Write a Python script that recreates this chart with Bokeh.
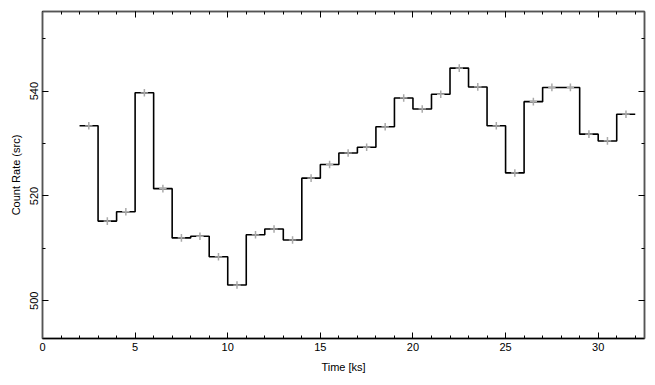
import math
from bokeh.plotting import figure
from bokeh.models import LinearAxis, Range1d, SingleIntervalTicker, ColumnDataSource, CustomJSTickFormatter
from bokeh.embed import file_html
from bokeh.resources import INLINE

# Data: 1 ks bins from 2 to 32 ks
bin_lo = [2, 3, 4, 5, 6, 7, 8, 9, 10, 11, 12, 13, 14, 15, 16, 17, 18, 19, 20, 21,
          22, 23, 24, 25, 26, 27, 28, 29, 30, 31]
rate = [533.4, 515.2, 517.0, 539.7, 521.4, 512.0, 512.3, 508.4, 503.0, 512.6,
        513.7, 511.6, 523.4, 526.0, 528.2, 529.3, 533.2, 538.7, 536.6, 539.4,
        544.4, 540.8, 533.4, 524.4, 538.0, 540.7, 540.7, 531.8, 530.5, 535.6]
rate_err = [0.73, 0.72, 0.72, 0.73, 0.72, 0.72, 0.72, 0.71, 0.71, 0.72,
            0.72, 0.72, 0.72, 0.73, 0.73, 0.73, 0.73, 0.73, 0.73, 0.73,
            0.74, 0.74, 0.73, 0.72, 0.73, 0.74, 0.74, 0.73, 0.73, 0.73]
bin_width = 1.0

FONT = "Liberation Sans"
AX = "#555555"

p = figure(frame_width=602, frame_height=327, output_backend="svg", toolbar_location=None,
           x_range=Range1d(0, 32.5), y_range=Range1d(492.8, 555.2),
           min_border_left=42, min_border_right=8, min_border_top=11,
           min_border_bottom=44, x_axis_location="below")
p.grid.visible = False
p.outline_line_color = AX
p.outline_line_width = 1.5
p.background_fill_color = "white"
p.border_fill_color = "white"

# step line
xs = bin_lo + [bin_lo[-1] + bin_width]
ys = rate + [rate[-1]]
p.step(xs, ys, mode="after", line_color="black", line_width=1.6)

# error bars
xc = [b + bin_width / 2 for b in bin_lo]
src = ColumnDataSource(dict(
    x=xc, y0=[r - e for r, e in zip(rate, rate_err)],
    y1=[r + e for r, e in zip(rate, rate_err)],
    xl=[x - 0.2 for x in xc], xr=[x + 0.2 for x in xc], y=rate))
p.segment(x0="xl", y0="y", x1="xr", y1="y", source=src, line_color="#b0b0b0", line_width=1.2)
p.segment(x0="x", y0="y0", x1="x", y1="y1", source=src, line_color="#aaaaaa", line_width=1.5)

def style(ax):
    ax.axis_line_color = AX
    ax.axis_line_width = 1.5
    ax.major_tick_line_color = "black"
    ax.minor_tick_line_color = "black"
    ax.major_tick_in = 6
    ax.major_tick_out = 0
    ax.minor_tick_in = 3
    ax.minor_tick_out = 0
    ax.major_label_text_font = FONT
    ax.major_label_text_font_size = "11px"
    ax.major_label_text_color = "black"
    ax.axis_label_text_font = FONT
    ax.axis_label_text_font_size = "11px"
    ax.axis_label_text_font_style = "normal"
    ax.axis_label_text_color = "black"

p.xaxis.ticker = SingleIntervalTicker(interval=5, num_minor_ticks=5)
p.yaxis.ticker = SingleIntervalTicker(interval=20, num_minor_ticks=2)
p.xaxis.axis_label = "Time [ks]"
p.yaxis.axis_label = "Count Rate (src)"
style(p.xaxis[0])
style(p.yaxis[0])
p.xaxis[0].axis_line_color = "black"
p.xaxis.major_label_standoff = 4
p.xaxis.axis_label_standoff = 7
p.yaxis.major_label_orientation = "vertical"
p.yaxis.major_label_standoff = 4
p.yaxis.axis_label_standoff = 6

blank = CustomJSTickFormatter(code="return ''")
top = LinearAxis(ticker=SingleIntervalTicker(interval=5, num_minor_ticks=5), formatter=blank)
style(top)
top.major_label_standoff = 0
p.add_layout(top, "above")
right = LinearAxis(ticker=SingleIntervalTicker(interval=20, num_minor_ticks=2), formatter=blank)
style(right)
right.major_label_standoff = 0
p.add_layout(right, "right")

open("out.html", "w").write(file_html(p, INLINE))
